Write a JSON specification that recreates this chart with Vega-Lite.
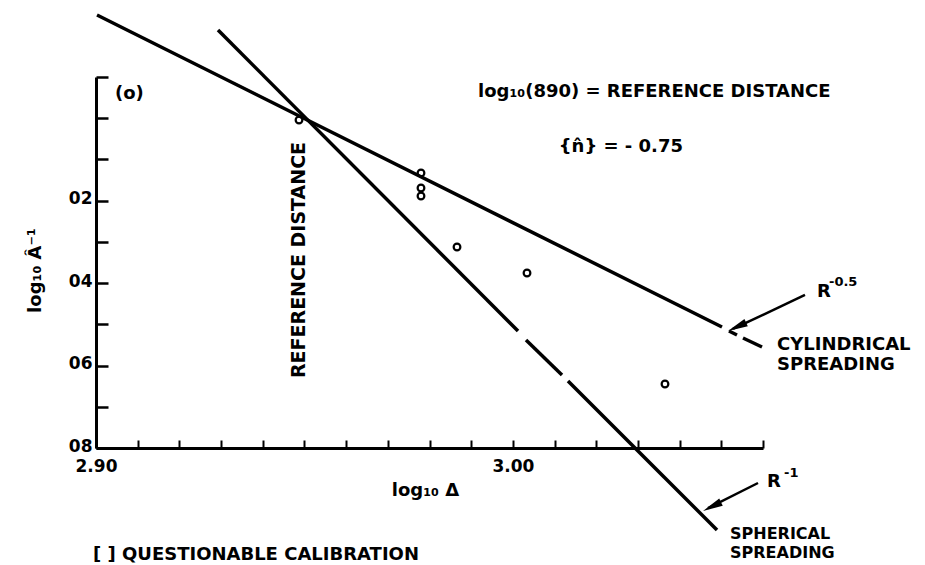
{
  "$schema": "https://vega.github.io/schema/vega-lite/v6.json",
  "width": 667,
  "height": 371,
  "autosize": {"type": "none"},
  "padding": {"left": 96, "top": 77, "right": 162, "bottom": 117},
  "background": "white",
  "config": {"view": {"stroke": null}, "font": "DejaVu Sans"},
  "datasets": {
    "lines": [
      {"curve": "cylindrical", "seg": "c1", "x": 2.90024, "y": -0.2504},
      {"curve": "cylindrical", "seg": "c1", "x": 3.05016, "y": 0.5065},
      {"curve": "cylindrical", "seg": "c2", "x": 3.05184, "y": 0.5162},
      {"curve": "cylindrical", "seg": "c2", "x": 3.05376, "y": 0.5259},
      {"curve": "cylindrical", "seg": "c3", "x": 3.0552, "y": 0.5332},
      {"curve": "cylindrical", "seg": "c3", "x": 3.05976, "y": 0.555},
      {"curve": "spherical", "seg": "s1", "x": 2.92927, "y": -0.214},
      {"curve": "spherical", "seg": "s1", "x": 3.00123, "y": 0.5162},
      {"curve": "spherical", "seg": "s2", "x": 3.00315, "y": 0.538},
      {"curve": "spherical", "seg": "s2", "x": 3.01178, "y": 0.6229},
      {"curve": "spherical", "seg": "s3", "x": 3.01322, "y": 0.6375},
      {"curve": "spherical", "seg": "s3", "x": 3.04897, "y": 0.9989}
    ],
    "points": [
      {"x": 2.9487, "y": 0.0043},
      {"x": 2.97796, "y": 0.1329},
      {"x": 2.97796, "y": 0.1693},
      {"x": 2.97796, "y": 0.1887},
      {"x": 2.9866, "y": 0.3124},
      {"x": 3.00339, "y": 0.3755},
      {"x": 3.03649, "y": 0.6448}
    ],
    "arrows": [
      {"arrow": "a1", "x": 3.07007, "y": 0.4288},
      {"arrow": "a1", "x": 3.0528, "y": 0.5113},
      {"arrow": "a2", "x": 3.0588, "y": 0.8849},
      {"arrow": "a2", "x": 3.04681, "y": 0.9456}
    ],
    "labels": [
      {"text": "(o)", "x": 2.90456, "y": -0.0466},
      {"text": "log₁₀(890) = REFERENCE DISTANCE", "x": 2.99163, "y": -0.0515},
      {"text": "{n̂} = - 0.75", "x": 3.01101, "y": 0.0819},
      {"text": "R", "x": 3.07295, "y": 0.4337},
      {"text": "CYLINDRICAL", "x": 3.06336, "y": 0.5623},
      {"text": "SPREADING", "x": 3.06336, "y": 0.6108},
      {"text": "R", "x": 3.06096, "y": 0.8946},
      {"text": "[ ] QUESTIONABLE CALIBRATION", "x": 2.89928, "y": 1.0717}
    ],
    "labels2": [
      {"text": "SPHERICAL", "x": 3.05209, "y": 1.0208},
      {"text": "SPREADING", "x": 3.05209, "y": 1.0668}
    ],
    "sups": [
      {"text": "-0.5", "x": 3.07583, "y": 0.407},
      {"text": "-1", "x": 3.06504, "y": 0.8703}
    ]
  },
  "layer": [
    {
      "data": {"name": "lines"},
      "mark": {"type": "line", "color": "black", "strokeWidth": 3.5, "strokeCap": "butt"},
      "encoding": {
        "x": {
          "field": "x", "type": "quantitative",
          "scale": {"domain": [2.9, 3.06], "nice": false, "zero": false},
          "axis": {
            "values": [2.9, 2.91, 2.92, 2.93, 2.94, 2.95, 2.96, 2.97, 2.98, 2.99, 3, 3.01, 3.02, 3.03, 3.04, 3.05, 3.06],
            "labelExpr": "datum.value == 2.9 ? '2.90' : (datum.value == 3 ? '3.00' : '')",
            "grid": false,
            "domainColor": "black", "domainWidth": 3,
            "tickColor": "black", "tickWidth": 2, "tickSize": -8,
            "labelPadding": 18, "labelFont": "DejaVu Sans", "labelFontWeight": "bold",
            "labelFontSize": 17, "labelColor": "black", "labelOverlap": false, "labelBound": false, "labelFlush": false,
            "title": "log₁₀ Δ", "titleFont": "DejaVu Sans", "titleFontWeight": "bold", "titleFontSize": 18,
            "titleColor": "black", "titleX": 329, "titleY": 47, "titleAlign": "center", "titleBaseline": "alphabetic"
          }
        },
        "y": {
          "field": "y", "type": "quantitative",
          "scale": {"domain": [-0.1, 0.8], "reverse": true, "nice": false, "zero": false},
          "axis": {
            "values": [-0.1, 0, 0.1, 0.2, 0.3, 0.4, 0.5, 0.6, 0.7, 0.8],
            "labelExpr": "indexof([0.2, 0.4, 0.6, 0.8], datum.value) >= 0 ? replace(format(datum.value, '.1f'), '.', '') : ''",
            "grid": false,
            "domainColor": "black", "domainWidth": 3,
            "tickColor": "black", "tickWidth": 2.5, "tickSize": -12,
            "labelPadding": 16, "labelOffset": -2, "labelFont": "DejaVu Sans", "labelFontWeight": "bold",
            "labelFontSize": 17, "labelColor": "black", "labelOverlap": false, "labelBound": false, "labelFlush": false,
            "title": "log₁₀ Â⁻¹", "titleFont": "DejaVu Sans", "titleFontWeight": "bold", "titleFontSize": 18,
            "titleColor": "black", "titleX": -61, "titleY": 193, "titleAlign": "center", "titleBaseline": "middle", "titleAngle": 270
          }
        },
        "detail": {"field": "seg"}
      }
    },
    {
      "data": {"name": "points"},
      "mark": {"type": "point", "shape": "circle", "filled": false, "stroke": "black", "strokeWidth": 2.2, "size": 45, "opacity": 1},
      "encoding": {
        "x": {"field": "x", "type": "quantitative"},
        "y": {"field": "y", "type": "quantitative"}
      }
    },
    {
      "data": {"name": "arrows"},
      "mark": {"type": "line", "color": "black", "strokeWidth": 2.5},
      "encoding": {
        "x": {"field": "x", "type": "quantitative"},
        "y": {"field": "y", "type": "quantitative"},
        "detail": {"field": "arrow"}
      }
    },
    {
      "data": {"values": [{"x": 3.0516, "y": 0.5162}]},
      "mark": {"type": "point", "shape": "M0,0L0.4,2L-0.4,2Z", "filled": true, "color": "black", "size": 400, "angle": 245, "opacity": 1},
      "encoding": {
        "x": {"field": "x", "type": "quantitative"},
        "y": {"field": "y", "type": "quantitative"}
      }
    },
    {
      "data": {"values": [{"x": 3.04561, "y": 0.9528}]},
      "mark": {"type": "point", "shape": "M0,0L0.4,2L-0.4,2Z", "filled": true, "color": "black", "size": 400, "angle": 244, "opacity": 1},
      "encoding": {
        "x": {"field": "x", "type": "quantitative"},
        "y": {"field": "y", "type": "quantitative"}
      }
    },
    {
      "data": {"name": "labels"},
      "mark": {"type": "text", "align": "left", "baseline": "alphabetic", "font": "DejaVu Sans", "fontWeight": "bold", "fontSize": 18, "color": "black"},
      "encoding": {
        "x": {"field": "x", "type": "quantitative"},
        "y": {"field": "y", "type": "quantitative"},
        "text": {"field": "text"}
      }
    },
    {
      "data": {"name": "labels2"},
      "mark": {"type": "text", "align": "left", "baseline": "alphabetic", "font": "DejaVu Sans", "fontWeight": "bold", "fontSize": 16, "color": "black"},
      "encoding": {
        "x": {"field": "x", "type": "quantitative"},
        "y": {"field": "y", "type": "quantitative"},
        "text": {"field": "text"}
      }
    },
    {
      "data": {"name": "sups"},
      "mark": {"type": "text", "align": "left", "baseline": "alphabetic", "font": "DejaVu Sans", "fontWeight": "bold", "fontSize": 13, "color": "black"},
      "encoding": {
        "x": {"field": "x", "type": "quantitative"},
        "y": {"field": "y", "type": "quantitative"},
        "text": {"field": "text"}
      }
    },
    {
      "data": {"values": [{"text": "REFERENCE DISTANCE", "x": 2.94858, "y": 0.3439}]},
      "mark": {"type": "text", "align": "center", "baseline": "middle", "angle": 270, "font": "DejaVu Sans", "fontWeight": "bold", "fontSize": 19, "color": "black"},
      "encoding": {
        "x": {"field": "x", "type": "quantitative"},
        "y": {"field": "y", "type": "quantitative"},
        "text": {"field": "text"}
      }
    }
  ]
}
